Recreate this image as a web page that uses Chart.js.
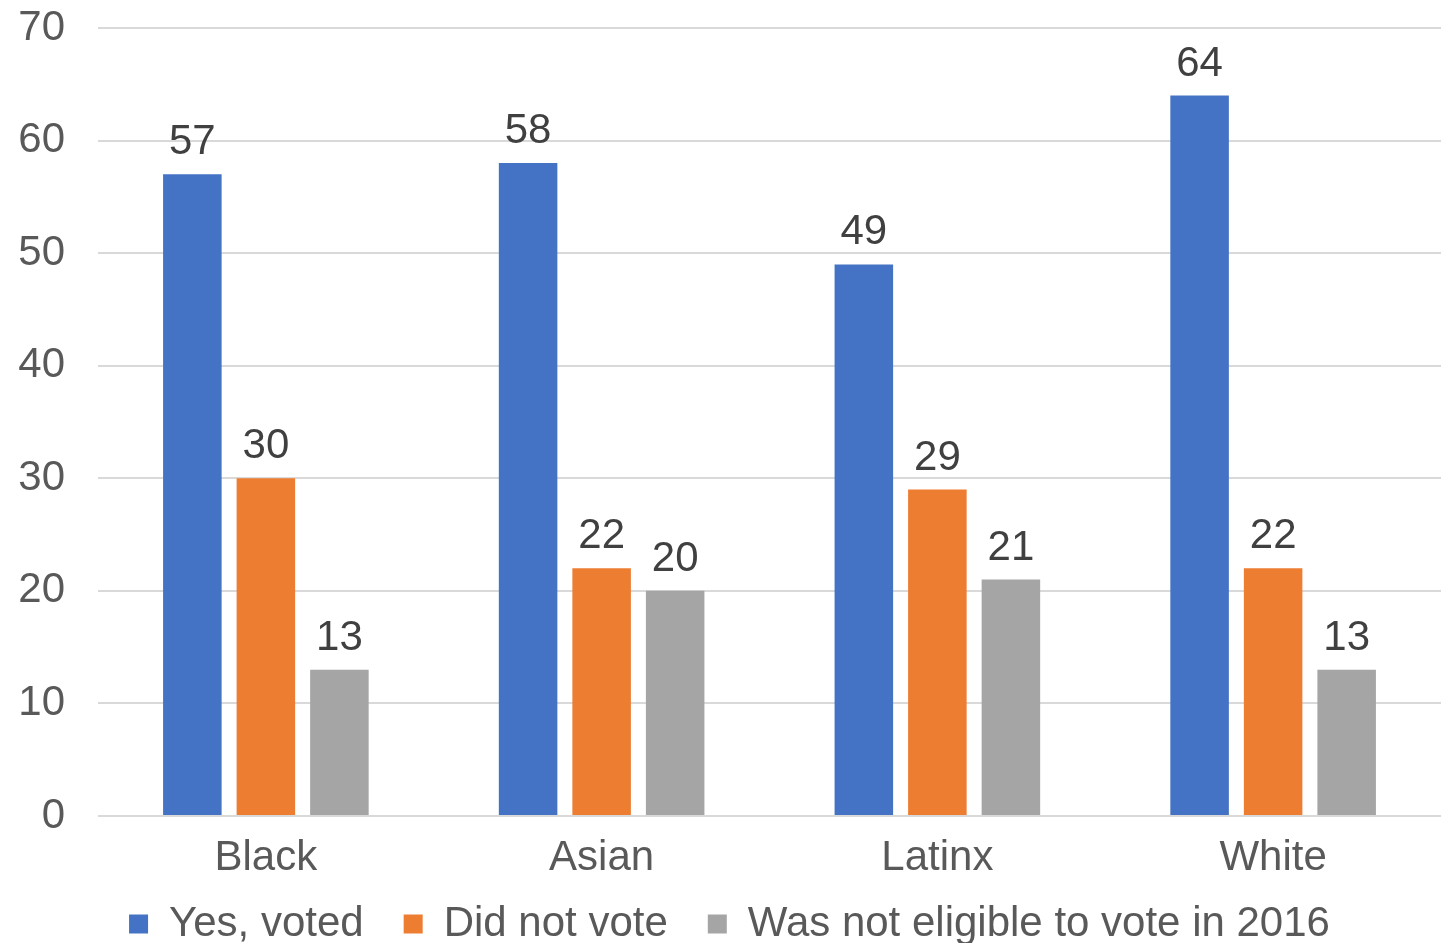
<!DOCTYPE html>
<html lang="en">
<head>
    <meta charset="UTF-8">
    <title>Voting in 2016</title>
    <script src="https://cdn.jsdelivr.net/npm/chart.js"></script>
    <style>
        html, body { margin: 0; padding: 0; background: #fff; }
        #wrap { width: 1450px; height: 945px; }
    </style>
</head>
<body>
    <div id="wrap"><canvas id="voteChart"></canvas></div>
    <script>
        // data
        const groups = ['Black', 'Asian', 'Latinx', 'White'];
        const yesVoted = [57, 58, 49, 64];
        const didNotVote = [30, 22, 29, 22];
        const notEligible = [13, 20, 21, 13];
        const seriesNames = ['Yes, voted', 'Did not vote', 'Was not eligible to vote in 2016'];
        const yTicks = [0, 10, 20, 30, 40, 50, 60, 70];

        const FONT = '"Liberation Sans", Arial, Helvetica, sans-serif';

        // value labels above each bar
        const barValues = {
            id: 'barValues',
            afterDatasetsDraw(chart) {
                const ctx = chart.ctx;
                ctx.save();
                ctx.font = '42px ' + FONT;
                ctx.fillStyle = '#404040';
                ctx.textAlign = 'center';
                ctx.textBaseline = 'alphabetic';
                chart.data.datasets.forEach((ds, i) => {
                    const meta = chart.getDatasetMeta(i);
                    meta.data.forEach((bar, j) => {
                        ctx.fillText(ds.data[j], bar.x, bar.y - 20);
                    });
                });
                ctx.restore();
            }
        };

        // x axis is kept short so the legend sits close; let its labels overflow downward
        const xLabelRoom = {
            id: 'xLabelRoom',
            afterLayout(chart) {
                const x = chart.scales.x;
                x.bottom = x.top + 75;
            }
        };

        new Chart(document.getElementById('voteChart'), {
            type: 'bar',
            data: {
                labels: groups,
                datasets: [
                    { label: seriesNames[0], data: yesVoted, backgroundColor: '#4472C4' },
                    { label: seriesNames[1], data: didNotVote, backgroundColor: '#ED7D31' },
                    { label: seriesNames[2], data: notEligible, backgroundColor: '#A5A5A5' }
                ]
            },
            options: {
                responsive: true,
                maintainAspectRatio: false,
                animation: false,
                layout: { padding: { left: 18, right: 9, top: 28, bottom: 2 } },
                datasets: {
                    bar: { categoryPercentage: 0.657, barPercentage: 0.796 }
                },
                scales: {
                    x: {
                        afterFit(axis) { axis.height = 47; },
                        grid: { display: false },
                        border: { display: false },
                        ticks: {
                            color: '#595959',
                            font: { family: FONT, size: 42 },
                            padding: 9
                        }
                    },
                    y: {
                        min: 0,
                        max: 70,
                        afterBuildTicks(axis) {
                            axis.ticks = yTicks.map(v => ({ value: v }));
                        },
                        afterFit(axis) { axis.width = 80; },
                        grid: {
                            color: '#d9d9d9',
                            lineWidth: 2,
                            drawTicks: true,
                            tickLength: 33,
                            tickColor: 'rgba(0,0,0,0)'
                        },
                        border: { display: false },
                        ticks: {
                            color: '#595959',
                            font: { family: FONT, size: 42 },
                            padding: 0
                        }
                    }
                },
                plugins: {
                    legend: {
                        position: 'bottom',
                        maxHeight: 80,
                        labels: {
                            color: '#595959',
                            font: { family: FONT, size: 42 },
                            boxWidth: 19,
                            boxHeight: 19,
                            padding: 40
                        }
                    },
                    tooltip: { enabled: false }
                }
            },
            plugins: [barValues, xLabelRoom]
        });
    </script>
</body>
</html>
